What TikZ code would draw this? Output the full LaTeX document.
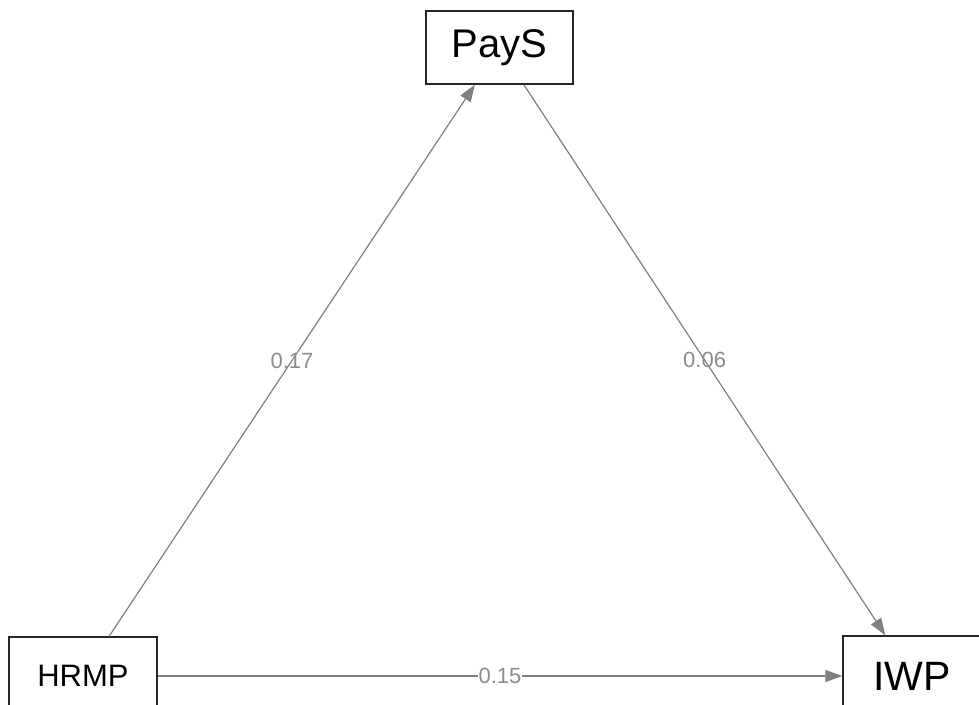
\documentclass[tikz,border=0pt]{standalone}
\usepackage{fontspec}
\setmainfont{Liberation Sans}
\usetikzlibrary{arrows.meta}
\definecolor{edgegray}{HTML}{808080}
\definecolor{labgray}{HTML}{8C8C8C}
\tikzset{
  var/.style={draw=black!85, line width=1.4pt, fill=white, inner sep=0pt},
  path/.style={draw=edgegray, line width=1.2pt, -{Triangle[length=17pt,width=12pt]}},
  lab/.style={text=labgray, font=\fontsize{22}{22}\selectfont, inner sep=0pt}
}
\begin{document}
\begin{tikzpicture}[x=1pt,y=-1pt]
\clip (0,0) rectangle (979,704);
\fill[white] (0,0) rectangle (979,704);
\node[var, minimum width=147pt, minimum height=73pt, font=\fontsize{40}{40}\selectfont] (pays) at (499.5,47.5) {PayS};
\node[var, minimum width=148pt, minimum height=78pt, font=\fontsize{31}{31}\selectfont] (hrmp) at (83,676) {HRMP};
\node[var, minimum width=138pt, minimum height=80pt, font=\fontsize{41}{41}\selectfont] (iwp) at (912,676) {IWP};
\draw[path] (hrmp) -- node[lab, midway] (l1) {0.17} (pays);
\draw[path] (pays) -- node[lab, midway] (l2) {0.06} (iwp);
\draw[path] (hrmp) -- node[lab, midway, fill=white, inner xsep=1pt] (l3) {0.15} (iwp);
\end{tikzpicture}
\end{document}
